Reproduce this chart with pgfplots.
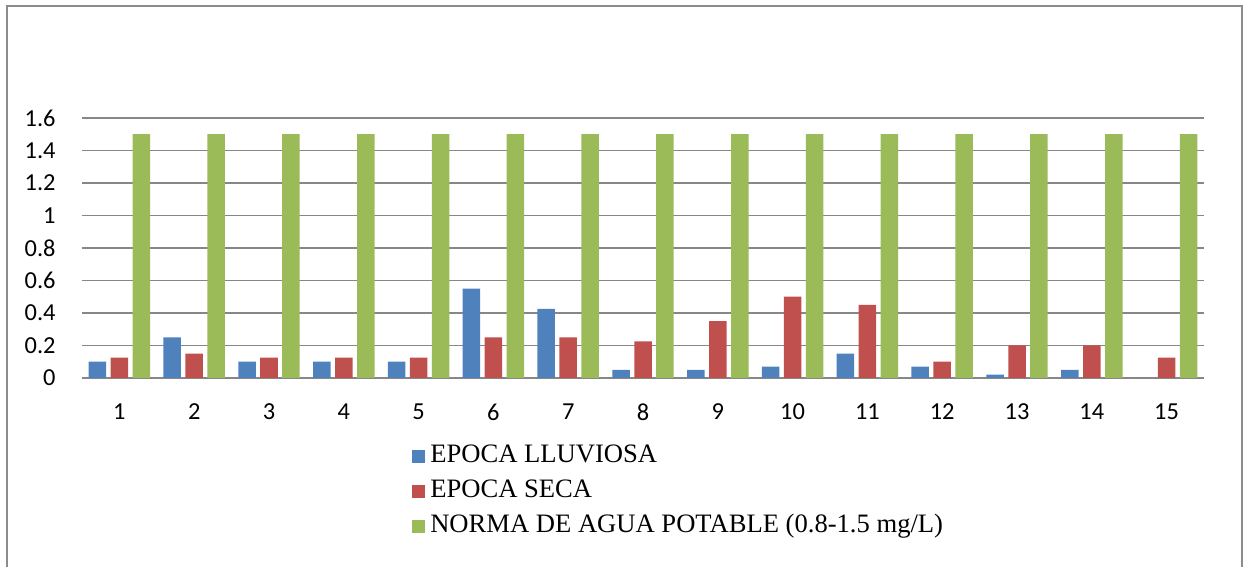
\documentclass[border=0pt]{standalone}
\usepackage{fontspec}
\setmainfont{Liberation Serif}
\newfontfamily\carlito{Carlito}
\usepackage{pgfplots}
\pgfplotsset{compat=1.18}
\definecolor{cblue}{HTML}{4F81BD}
\definecolor{cred}{HTML}{C0504D}
\definecolor{cgreen}{HTML}{9BBB59}
\definecolor{gridgray}{HTML}{878787}
\definecolor{framegray}{HTML}{8C8C8C}
\pgfplotstableread{
x lluviosa seca norma
1 0.10 0.125 1.5
2 0.25 0.15 1.5
3 0.10 0.125 1.5
4 0.10 0.125 1.5
5 0.10 0.125 1.5
6 0.55 0.25 1.5
7 0.425 0.25 1.5
8 0.05 0.225 1.5
9 0.05 0.35 1.5
10 0.07 0.50 1.5
11 0.15 0.45 1.5
12 0.07 0.10 1.5
13 0.02 0.20 1.5
14 0.05 0.20 1.5
15 0.0 0.125 1.5
}\datatable
\begin{document}
\begin{tikzpicture}
\useasboundingbox (0,0) rectangle (622pt,283.5pt);
\draw[framegray, line width=1pt] (3.35pt,0) -- (3.35pt,280.65pt) -- (621.15pt,280.65pt) -- (621.15pt,0);
\begin{axis}[
  at={(41pt,94.5pt)}, anchor=south west,
  scale only axis, width=561pt, height=130pt,
  xmin=0.5, xmax=15.5, ymin=0, ymax=1.6,
  ybar, bar width=0.234,
  axis lines*=left,
  x axis line style={gridgray, line width=0.8pt, -},
  y axis line style={draw=none},
  xtick={1,...,15}, xticklabels={1,2,3,4,5,6,7,8,9,10,11,12,13,14,15},
  ytick={0,0.2,0.4,0.6,0.8,1,1.2,1.4,1.6},
  yticklabels={0,0.2,0.4,0.6,0.8,1,1.2,1.4,1.6},
  major tick length=0pt,
  ymajorgrids, grid style={gridgray, line width=0.8pt},
  tick label style={font=\carlito\fontsize{12.2}{14}\selectfont},
  xticklabel style={inner sep=0pt, anchor=center, yshift=-17pt},
  yticklabel style={inner sep=0pt, anchor=east, xshift=-13pt},
  legend style={at={(rel axis cs:0.294,-0.2615)}, anchor=north west, draw=none, fill=none,
    inner sep=0pt, column sep=2.5pt, row sep=7pt,
    font=\fontsize{13.3}{16}\selectfont,
    nodes={inner sep=0pt, text height=8pt, text depth=2.5pt, anchor=base west}},
  legend cell align=left,
  clip=false,
]
\addplot[fill=cblue, draw=none, bar shift=-0.294,
  legend image code/.code={\fill[cblue] (0pt,-0.5pt) rectangle (6.5pt,6pt);}]
  table[x=x, y=lluviosa] {\datatable};
\addplot[fill=cred, draw=none, bar shift=0,
  legend image code/.code={\fill[cred] (0pt,-0.5pt) rectangle (6.5pt,6pt);}]
  table[x=x, y=seca] {\datatable};
\addplot[fill=cgreen, draw=none, bar shift=0.294,
  legend image code/.code={\fill[cgreen] (0pt,-0.5pt) rectangle (6.5pt,6pt);}]
  table[x=x, y=norma] {\datatable};
\legend{EPOCA LLUVIOSA, EPOCA SECA, NORMA DE AGUA POTABLE (0.8-1.5 mg/L)}
\end{axis}
\end{tikzpicture}
\end{document}
